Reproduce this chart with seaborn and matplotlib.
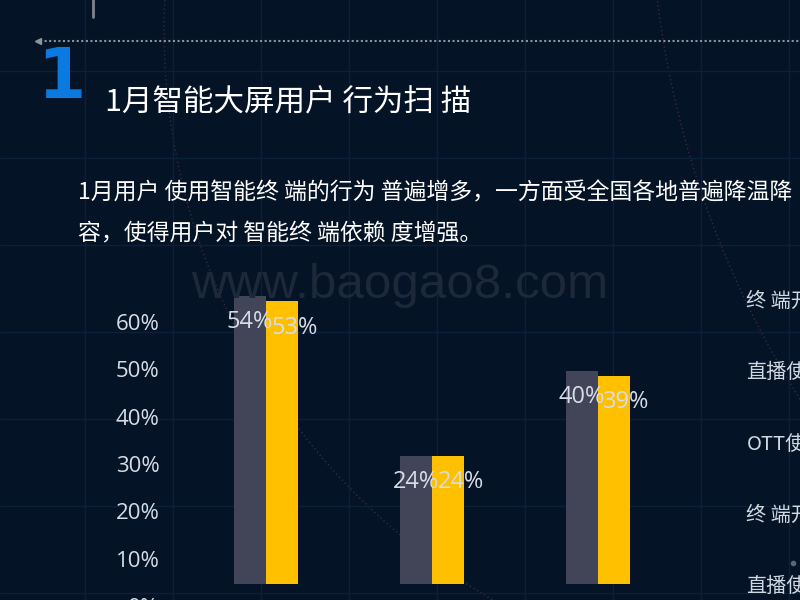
import numpy as np
import pandas as pd
import seaborn as sns
import matplotlib.pyplot as plt
from matplotlib.patches import Arc
from matplotlib.ticker import FuncFormatter

# chart data
groups = ["终端开机", "直播使用", "OTT使用"]
series = ["12月", "1月"]
prev_values = [54, 24, 40]
curr_values = [53, 24, 39]
axis_ticks = [0, 10, 20, 30, 40, 50, 60]

side_labels = ["终 端开", "直播使", "OTT使", "终 端开", "直播使"]
title = "1月智能大屏用户 行为扫 描"
body_lines = ["1月用户 使用智能终 端的行为 普遍增多，一方面受全国各地普遍降温降",
              "容，使得用户对 智能终 端依赖 度增强。"]

BG = "#051326"
GREY = "#424558"
YELLOW = "#ffc000"
LABEL = "#d6dde7"
CJK = ["Noto Sans CJK SC", "DejaVu Sans"]

sns.set_theme(style="white")
plt.rcParams["font.family"] = CJK

df = pd.DataFrame({
    "group": groups * 2,
    "series": [series[0]] * 3 + [series[1]] * 3,
    "value": prev_values + curr_values,
})

fig = plt.figure(figsize=(8, 6), dpi=100)
fig.patch.set_facecolor(BG)

# background decoration in pixel space
bg = fig.add_axes([0, 0, 1, 1], zorder=0)
bg.set_xlim(0, 800)
bg.set_ylim(600, 0)
bg.set_facecolor(BG)
bg.axis("off")
for gx in np.arange(85, 800, 88):
    bg.axvline(gx, color="#0b2039", lw=1)
for gy in np.arange(71, 600, 87):
    bg.axhline(gy, color="#0b2039", lw=1)
bg.add_patch(Arc((824, 29), 1320, 1320, theta1=118, theta2=184, color="#3a2844",
                 lw=1, ls=(0, (1, 2))))
bg.add_patch(Arc((1620, -119), 1940, 1940, theta1=145, theta2=175, color="#3a2844",
                 lw=1, ls=(0, (1, 2))))
bg.plot([40, 800], [41, 41], color="#8d949c", lw=1.5, ls=(0, (1, 1.2)))
bg.plot([38], [41], marker="<", color="#8d949c", ms=4)
bg.plot([93, 93], [0, 17], color="#7f858c", lw=2)
bg.plot([793], [563], marker="o", color="#5d6570", ms=3)

fig.text(0.046, 1 - 98 / 600, "1", color="#0a7ae0", fontsize=50, fontweight="bold",
         family="DejaVu Sans", va="baseline", ha="left")
fig.text(0.131, 0.828, title, color="white", fontsize=22, va="center", ha="left")
for i, line in enumerate(body_lines):
    fig.text(0.097, 0.678 - i * 0.068, line, color="white", fontsize=16.5,
             va="center", ha="left")
fig.text(0.5, 0.525, "www.baogao8.com", color="#1d2838", fontsize=35.5,
         family="Liberation Sans", va="center", ha="center")
for i, s in enumerate(side_labels):
    fig.text(0.933, 0.497 - i * 0.1185, s, color="#d0d8e2", fontsize=14.5,
             va="center", ha="left")

# bars
ax = fig.add_axes([0.125, 16 / 600, 0.83, 320 / 600], zorder=2)
ax.patch.set_alpha(0)
sns.barplot(data=df, x="group", y="value", hue="series", palette=[GREY, YELLOW],
            width=0.386, saturation=1, legend=False, linewidth=0, ax=ax)
ax.set_xlim(-1, 3)
ax.set_ylim(0, 60)
ax.axis("off")

for cont, dx in zip(ax.containers, [0, 9]):
    for rect in cont:
        h = rect.get_height()
        ax.annotate(f"{h:.0f}%", (rect.get_x() + rect.get_width() / 2, h),
                    xytext=(dx, -19), textcoords="offset points",
                    ha="center", va="center", color=LABEL, fontsize=17,
                    family="Open Sans")

# percentage scale shown at the left
sc = fig.add_axes([165 / 800, -20 / 600, 0.001, 356 / 600], zorder=1)
sc.patch.set_alpha(0)
sc.set_ylim(-2.96, 72.3)
sc.set_yticks(axis_ticks)
sc.yaxis.set_major_formatter(FuncFormatter(lambda v, p: f"{v:.0f}%"))
sc.set_xticks([])
sc.tick_params(axis="y", length=0, pad=4, labelsize=16, labelcolor=LABEL)
for lab in sc.get_yticklabels():
    lab.set_family("Open Sans")
for sp in sc.spines.values():
    sp.set_visible(False)

fig.savefig("out.png", dpi=100, facecolor=BG)
